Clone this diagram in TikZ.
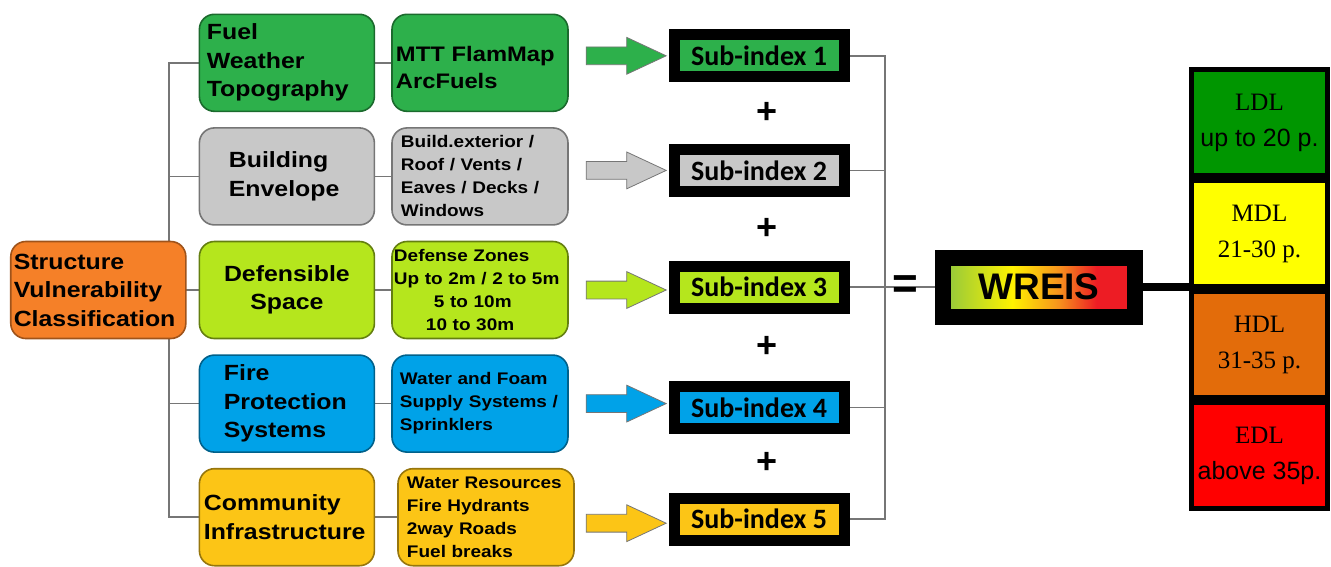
\documentclass[tikz,border=0pt]{standalone}
\usepackage{fontspec}
\setmainfont{Liberation Sans}
\newfontfamily\boxfont[FakeStretch=1.13]{Liberation Sans}
\newfontfamily\subfont{Carlito}
\newfontfamily\serifcell{Liberation Serif}
\usetikzlibrary{shapes.arrows,positioning,calc,backgrounds}

\definecolor{fuelgreen}{RGB}{45,176,75}
\definecolor{envgray}{RGB}{200,200,200}
\definecolor{spacelime}{RGB}{181,230,29}
\definecolor{fireblue}{RGB}{0,162,232}
\definecolor{infraamber}{RGB}{252,197,22}
\definecolor{svorange}{RGB}{245,128,40}
\definecolor{linkgray}{RGB}{118,118,118}
\definecolor{ldlgreen}{RGB}{0,150,0}
\definecolor{mdlyellow}{RGB}{255,255,0}
\definecolor{hdlorange}{RGB}{227,108,10}
\definecolor{edlred}{RGB}{255,0,0}
\definecolor{wgreen}{RGB}{141,198,63}
\definecolor{wyellow}{RGB}{255,242,0}
\definecolor{worange}{RGB}{247,148,29}
\definecolor{wred}{RGB}{237,28,36}
\pgfdeclarehorizontalshading{wreisfade}{100bp}{color(0bp)=(wgreen); color(25bp)=(wgreen);
  color(43bp)=(wyellow); color(55bp)=(worange); color(65bp)=(wred); color(100bp)=(wred)}

\begin{document}
\begin{tikzpicture}
[x=1pt,y=-1pt,
catbox/.style ={rectangle, rounded corners=15pt, line width=1.6pt,
minimum width=175pt, minimum height=97pt, align=left, inner sep=0pt,
font=\fontsize{22}{28.5}\boxfont\bfseries},
toolbox/.style ={rectangle, rounded corners=15pt, line width=1.6pt,
minimum width=176pt, minimum height=97pt, align=left, inner sep=0pt,
font=\fontsize{16.8}{23}\boxfont\bfseries},
fatarrow/.style ={single arrow, draw=linkgray, line width=0.8pt,
minimum height=80pt, inner sep=8.5pt,
single arrow head extend=9.5pt, single arrow tip angle=50},
sibox/.style ={rectangle, draw=black, line width=11pt,
minimum width=170pt, minimum height=42pt, inner sep=0pt,
font=\fontsize{28}{28}\subfont\bfseries},
wreisbox/.style ={rectangle, draw=black, line width=16pt, shade, shading=wreisfade,
minimum width=192pt, minimum height=59pt, inner sep=0pt,
font=\fontsize{37}{37}\selectfont\bfseries},
cell/.style ={rectangle, draw=black, line width=5pt,
minimum width=136pt, minimum height=106pt, inner sep=0pt, align=center,
font=\fontsize{25}{36}\selectfont},
plus/.style ={inner sep=0pt, font=\fontsize{36}{36}\selectfont\bfseries},
eqsign/.style ={inner sep=0pt, font=\fontsize{44}{44}\selectfont\bfseries},
link/.style ={draw=linkgray, line width=1.6pt}]
\useasboundingbox (0,0) rectangle (1331,566);
\matrix [column sep=0pt, row sep=15pt, inner sep=0pt, outer sep=0pt, matrix anchor=north west] at (10,13.5)
{
% row 1 fuel, weather, topography
&[12pt] \node [catbox, fill=fuelgreen, draw=fuelgreen!60!black, text width=160pt] (fuel) {Fuel\\Weather\\Topography}; &[16pt]
\node [toolbox, fill=fuelgreen, draw=fuelgreen!60!black, text width=168pt, text depth=18pt,
font=\fontsize{21}{26.7}\boxfont\bfseries] (mtt) {MTT FlamMap\\ArcFuels}; &[11pt]
\node [fatarrow, fill=fuelgreen, yshift=7pt] (a1) {}; &[2pt]
\node [sibox, fill=fuelgreen, yshift=7pt] (si1) {Sub-index 1}; \\
% row 2 building envelope
& \node [catbox, fill=envgray, draw=linkgray, text width=116pt] (bldg) {Building\\Envelope}; &
\node [toolbox, fill=envgray, draw=linkgray, text width=158pt] (build) {Build.exterior /\\Roof / Vents /\\Eaves / Decks /\\Windows}; &
\node [fatarrow, fill=envgray, yshift=6pt] (a2) {}; &
\node [sibox, fill=envgray, yshift=6pt] (si2) {Sub-index 2}; \\
% row 3 has the root box in the first column
\node [catbox, fill=svorange, draw=svorange!65!black, text width=169pt] (sv) {Structure\\Vulnerability\\Classification}; &
\node [catbox, fill=spacelime, draw=spacelime!55!black, align=center] (dspace) {Defensible\\Space}; &
\node [toolbox, fill=spacelime, draw=spacelime!55!black, text width=172pt] (zones) {Defense Zones\\Up to 2m / 2 to 5m\\\hspace*{40pt}5 to 10m\\\hspace*{32pt}10 to 30m}; &
\node [fatarrow, fill=spacelime] (a3) {}; &
\node [sibox, fill=spacelime, yshift=3pt] (si3) {Sub-index 3}; \\
% row 4 fire protection
& \node [catbox, fill=fireblue, draw=fireblue!60!black, text width=126pt] (fire) {Fire\\Protection\\Systems}; &
\node [toolbox, fill=fireblue, draw=fireblue!60!black, text width=160pt] (water) {Water and Foam\\Supply Systems /\\Sprinklers}; &
\node [fatarrow, fill=fireblue] (a4) {}; &
\node [sibox, fill=fireblue, yshift=-4pt] (si4) {Sub-index 4}; \\
% row 5 community infrastructure
& \node [catbox, fill=infraamber, draw=infraamber!60!black, text width=166pt] (comm) {Community\\Infrastructure}; &
\node [toolbox, fill=infraamber, draw=infraamber!60!black, text width=158pt, xshift=6pt] (res) {Water Resources\\Fire Hydrants\\2way Roads\\Fuel breaks}; &
\node [fatarrow, fill=infraamber, yshift=-6pt] (a5) {}; &
\node [sibox, fill=infraamber, yshift=-2pt] (si5) {Sub-index 5}; \\
};
% result box and the danger scale
\node [wreisbox] (wreis) at (1039,0 |- si3) {WREIS};
\node [cell, fill=ldlgreen] (ldl) at (1259.5,122.5) {{\serifcell LDL}\\up to 20 p.};
\node [cell, fill=mdlyellow, below=0pt of ldl] (mdl) {{\serifcell MDL}\\{\serifcell 21-30 p.}};
\node [cell, fill=hdlorange, below=0pt of mdl] (hdl) {{\serifcell HDL}\\{\serifcell 31-35 p.}};
\node [cell, fill=edlred, below=0pt of hdl] (edl) {{\serifcell EDL}\\above 35p.};
\draw [line width=8pt] (wreis.east) -- (wreis.east -| mdl.west);
% plus signs between the sub-indices
\node [plus] (p1) at ($(si1)!0.5!(si2)+(8,0)$) {+};
\node [plus] (p2) at ($(si2)!0.5!(si3)+(8,0)$) {+};
\node [plus] (p3) at ($(si3)!0.5!(si4)+(8,0)$) {+};
\node [plus] (p4) at ($(si4)!0.5!(si5)+(8,0)$) {+};
\node [eqsign] (eq) at (905,0 |- si3) {=};
\coordinate (trunk) at ([xshift=-17pt]sv.east);
\coordinate (bus) at ([xshift=41pt]si1.east);
\begin{scope}[on background layer, every path/.style=link]
\path (fuel) -| (trunk) |- (comm);
\path (trunk |- bldg) -- (bldg);
\path (sv) -- (dspace);
\path (trunk |- fire) -- (fire);
\path (fuel) -- (mtt);
\path (bldg) -- (build);
\path (dspace) -- (zones);
\path (fire) -- (water);
\path (comm) -- (res);
\path (si1) -| (bus) |- (si5);
\path (si2) -- (si2 -| bus);
\path (si3) -- (wreis);
\path (si4) -- (si4 -| bus);
\end{scope}
\end{tikzpicture}
\end{document}
